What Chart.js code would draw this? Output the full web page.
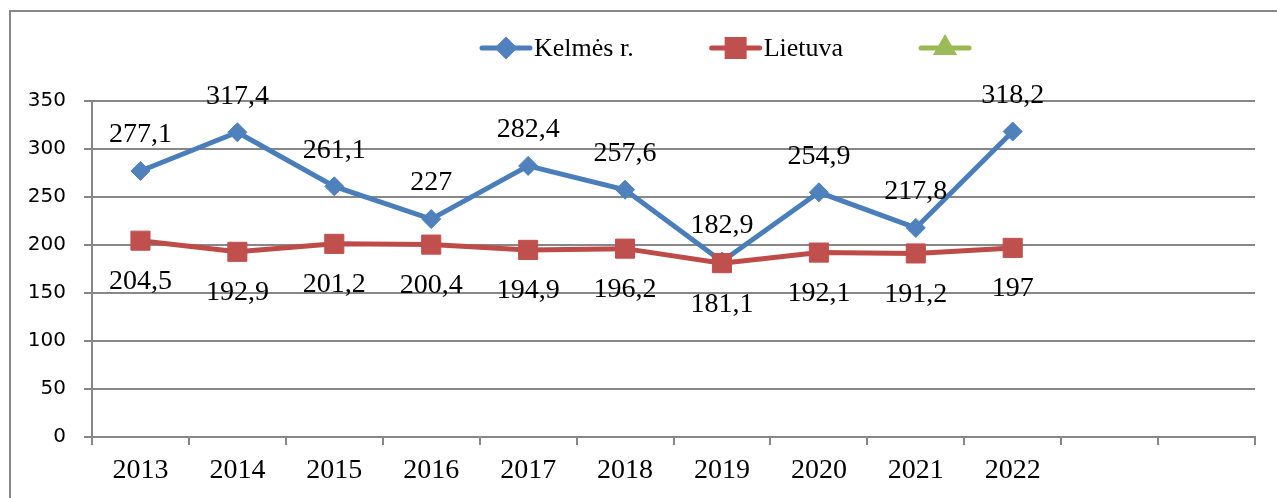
<!DOCTYPE html>
<html>
<head>
<meta charset="utf-8">
<script src="https://cdn.jsdelivr.net/npm/chart.js@4/dist/chart.umd.min.js"></script>
<style>
  html, body { margin: 0; padding: 0; background: #fff; }
  #wrap { position: relative; width: 1277px; height: 498px; }
</style>
</head>
<body>
<div id="wrap"><canvas id="chart"></canvas></div>
<script>
/* ---- Données ---- */
const years     = ['2013', '2014', '2015', '2016', '2017', '2018', '2019', '2020', '2021', '2022', '', ''];
const kelmes    = [277.1, 317.4, 261.1, 227, 282.4, 257.6, 182.9, 254.9, 217.8, 318.2];
const lietuva   = [204.5, 192.9, 201.2, 200.4, 194.9, 196.2, 181.1, 192.1, 191.2, 197];
const tuscia    = [];
const yTicksMax = 350;
const yStep     = 50;

const GRIS = '#878787';
const fmt  = v => String(v).replace('.', ',');

/* ---- Cadre extérieur ---- */
const cadre = {
  id: 'cadre',
  beforeDraw(chart) {
    const ctx = chart.ctx;
    ctx.save();
    ctx.fillStyle = '#fff';
    ctx.fillRect(0, 0, chart.width, chart.height);
    ctx.strokeStyle = GRIS;
    ctx.lineWidth = 2;
    ctx.strokeRect(10, 11, chart.width + 20, chart.height + 20);
    ctx.restore();
  },
};

/* ---- Étiquettes de valeurs ---- */
const etiquettes = {
  id: 'etiquettes',
  afterDatasetsDraw(chart) {
    const ctx = chart.ctx;
    ctx.save();
    ctx.font = '28px "Liberation Serif"';
    ctx.fillStyle = '#000';
    ctx.textAlign = 'center';
    ctx.textBaseline = 'middle';
    chart.data.datasets.forEach((ds, i) => {
      if (!ds.labelPos) return;
      const meta = chart.getDatasetMeta(i);
      meta.data.forEach((pt, j) => {
        const dy = ds.labelPos === 'above' ? -36 : 41;
        ctx.fillText(fmt(ds.data[j]), pt.x, pt.y + dy);
      });
    });
    ctx.restore();
  },
};

/* ---- Légende (ligne + marqueur) ---- */
const legende = {
  id: 'legende',
  afterDraw(chart) {
    const ctx = chart.ctx;
    const y = 48;
    let x = 480;
    ctx.save();
    ctx.font = '26px "Liberation Serif"';
    ctx.textBaseline = 'middle';
    chart.data.datasets.forEach(ds => {
      ctx.strokeStyle = ds.borderColor;
      ctx.lineWidth = 5;
      ctx.lineCap = 'round';
      ctx.beginPath();
      ctx.moveTo(x + 2, y);
      ctx.lineTo(x + 50, y);
      ctx.stroke();
      ctx.fillStyle = ds.pointBackgroundColor;
      ctx.strokeStyle = ds.pointBackgroundColor;
      Chart.helpers.drawPoint(ctx, {
        pointStyle: ds.pointStyle, rotation: 0,
        radius: ds.legendRadius, borderWidth: 1,
      }, x + 26, y);
      ctx.fillStyle = '#000';
      ctx.fillText(ds.label, x + 54, y + 1);
      x += 54 + ctx.measureText(ds.label).width + 76;
    });
    ctx.restore();
  },
};

new Chart(document.getElementById('chart'), {
  type: 'line',
  data: {
    labels: years,
    datasets: [
      {
        label: 'Kelmės r.',
        data: kelmes,
        order: 1,
        labelPos: 'above',
        borderColor: '#4A7EBB',
        borderWidth: 5,
        pointStyle: 'rectRot',
        pointRadius: 9.5,
        legendRadius: 8,
        pointBackgroundColor: '#4F81BD',
        pointBorderColor: '#4F81BD',
        pointBorderWidth: 1,
        tension: 0,
      },
      {
        label: 'Lietuva',
        data: lietuva,
        order: 0,
        labelPos: 'below',
        borderColor: '#BE4B48',
        borderWidth: 5,
        pointStyle: 'rect',
        pointRadius: 13.5,
        legendRadius: 12,
        pointBackgroundColor: '#C0504D',
        pointBorderColor: '#C0504D',
        pointBorderWidth: 1,
        tension: 0,
      },
      {
        label: '',
        data: tuscia,
        order: 2,
        borderColor: '#98B954',
        borderWidth: 5,
        pointStyle: 'triangle',
        pointRadius: 10,
        legendRadius: 9,
        pointBackgroundColor: '#9BBB59',
        pointBorderColor: '#9BBB59',
      },
    ],
  },
  options: {
    responsive: true,
    maintainAspectRatio: false,
    animation: false,
    events: [],
    layout: { padding: { top: 101, right: 22, left: 0, bottom: 0 } },
    plugins: {
      legend: { display: false },
      tooltip: { enabled: false },
    },
    scales: {
      x: {
        offset: true,
        afterFit: s => { s.height = 61; },
        grid: { drawOnChartArea: false, offset: true, tickLength: 8, color: GRIS, lineWidth: 2 },
        border: { color: GRIS, width: 2 },
        ticks: {
          color: '#000',
          padding: 9,
          maxRotation: 0,
          autoSkip: false,
          font: { family: 'Liberation Serif', size: 28 },
        },
      },
      y: {
        min: 0,
        max: yTicksMax,
        afterFit: s => { s.width = 92; },
        grid: { color: GRIS, lineWidth: 2, tickLength: 8 },
        border: { color: GRIS, width: 2 },
        ticks: {
          stepSize: yStep,
          color: '#000',
          padding: 18,
          font: { family: 'DejaVu Sans', size: 20 },
        },
      },
    },
  },
  plugins: [cadre, etiquettes, legende],
});
</script>
</body>
</html>
